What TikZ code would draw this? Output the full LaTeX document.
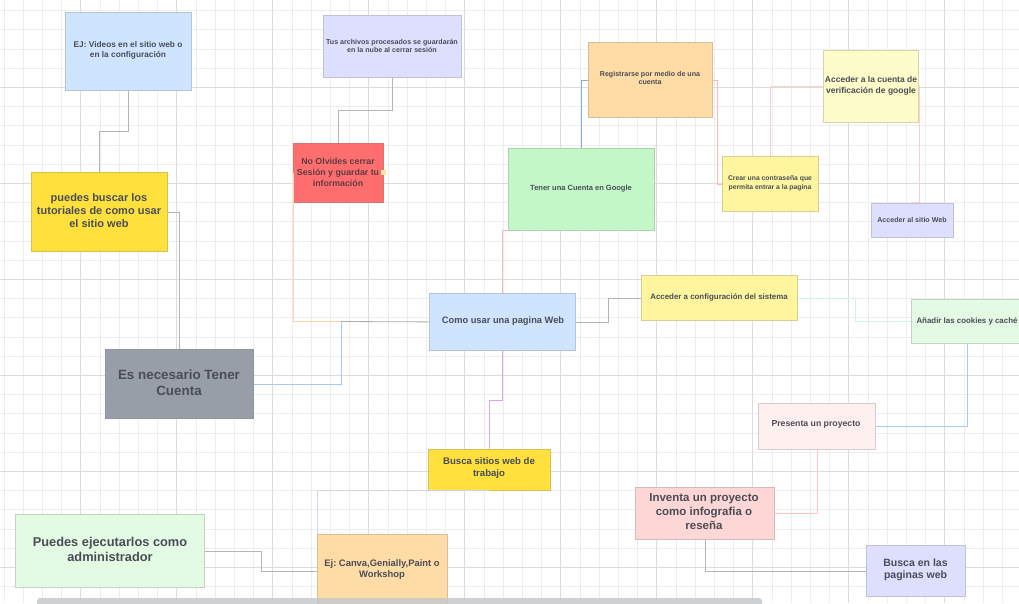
\documentclass[tikz,border=0pt]{standalone}
\usepackage{fontspec}
\setmainfont{Liberation Sans}
\usetikzlibrary{calc}
\frenchspacing
\definecolor{tc}{HTML}{4A4D57}
\definecolor{gminor}{HTML}{EDEDED}
\definecolor{gmajor}{HTML}{DCDCDC}
\definecolor{cblue}{HTML}{CFE4FF}
\definecolor{cyel}{HTML}{FFE03D}
\definecolor{clav}{HTML}{DEDEFF}
\definecolor{cred}{HTML}{FF6E6E}
\definecolor{corg}{HTML}{FFDBA6}
\definecolor{cgrn}{HTML}{C3F7C8}
\definecolor{cpyel}{HTML}{FEFCC9}
\definecolor{clyel}{HTML}{FFF59E}
\definecolor{cmint}{HTML}{E3FAE3}
\definecolor{cgray}{HTML}{979EA8}
\definecolor{cppink}{HTML}{FFF0F0}
\definecolor{cpink}{HTML}{FFD6D6}
\definecolor{lgray}{HTML}{B4B4B4}
\definecolor{lorange}{HTML}{FFD4A8}
\definecolor{lblue}{HTML}{A6CAF2}
\definecolor{lmix}{HTML}{B2AAA4}
\definecolor{lcyan}{HTML}{D2F2F2}
\definecolor{lpink}{HTML}{FFB8B8}
\definecolor{lpurple}{HTML}{DAA4F2}
\definecolor{ldblue}{HTML}{86AEE4}
\definecolor{llav}{HTML}{D2D2F4}
\definecolor{sbar}{HTML}{C6C9CD}
\definecolor{hand}{HTML}{FFE6A0}
\definecolor{ntc}{HTML}{5E3C44}
\tikzset{
  box/.style={rectangle, fill=#1, draw=#1!68!gray, line width=0.8pt, inner sep=0pt, anchor=north west},
  conn/.style={line width=0.8pt, draw=#1},
  txt/.style={text=tc, align=center, inner sep=0pt, anchor=center}
}
\newcommand{\mybox}[6]{\node[box=#2,minimum width=#5pt,minimum height=#6pt] (#1) at (#3,#4) {};}
\newcommand{\fsz}[2]{\fontsize{#1}{#2}\selectfont\bfseries}
\begin{document}
\begin{tikzpicture}[x=1pt,y=-1pt]
\useasboundingbox (0,0) rectangle (1019,603);
\clip (0,0) rectangle (1019,603);
\fill[white] (0,0) rectangle (1019,603);
% grid
\foreach \i in {0,...,53} {
  \draw[gminor, line width=0.8pt] ({3.9+19.2*\i},0) -- ({3.9+19.2*\i},603);
}
\foreach \i in {0,...,31} {
  \draw[gminor, line width=0.8pt] (0,{10.5+19.2*\i}) -- (1019,{10.5+19.2*\i});
}
\foreach \i in {0,...,10} {
  \draw[gmajor, line width=1pt] ({80.7+96*\i},0) -- ({80.7+96*\i},603);
}
\foreach \i in {0,...,6} {
  \draw[gmajor, line width=1pt] (0,{-8.7+96*\i}) -- (1019,{-8.7+96*\i});
}
% boxes
\mybox{vid}{cblue}{65}{12}{126}{78}
\mybox{tut}{cyel}{31}{172}{136}{79}
\mybox{arch}{clav}{323}{15}{138}{62}
\mybox{nov}{cred}{293}{143}{90}{59}
\mybox{reg}{corg}{588}{42}{124}{75}
\mybox{goo}{cgrn}{508}{148}{146}{82}
\mybox{ver}{cpyel}{823}{50}{95}{72}
\mybox{pwd}{clyel}{722}{156}{96}{55}
\mybox{sit}{clav}{871}{203}{82}{34}
\mybox{cfg}{clyel}{641}{275}{156}{45}
\mybox{coo}{cmint}{911}{299}{112}{44}
\mybox{web}{cblue}{429}{293}{146}{57}
\mybox{nec}{cgray}{105}{349}{148}{69}
\mybox{bus}{cyel}{428}{449}{122}{41}
\mybox{adm}{cmint}{15}{514}{189}{73}
\mybox{can}{corg}{317}{534}{130}{73}
\mybox{pre}{cppink}{758}{403}{117}{46}
\mybox{inv}{cpink}{635}{487}{139}{52}
\mybox{pag}{clav}{866}{545}{99}{51}
\coordinate (j1) at (341,321.5);
% connectors
\draw[conn=lgray] (vid.south) -- ++(0,41) -| (tut.north);
\draw[conn=lgray] (tut.east) -| (nec.north);
\draw[conn=lgray] (arch.south) -- ++(0,33) -| (nov.north);
\draw[conn=lorange] (nov.west) |- (j1);
\draw[conn=lblue] (nec.east) -| (j1);
\draw[conn=lmix] (j1) -- (web.west);
\draw[conn=lgray] (web.east) -- ++(33,0) |- (cfg.west);
\draw[conn=lcyan] (cfg.east) -- ++(58,0) |- (coo.west);
\draw[conn=lpink] (web.north) |- (goo.south west);
\draw[conn=lpurple] (web.south) -- ++(0,50) -| (bus.north);
\draw[conn=ldblue] (reg.west) -| (goo.north);
\draw[conn=lpink] (reg.east) -- ++(5,0) |- (pwd.west);
\draw[conn=lpink!70!white] (pwd.north) |- (ver.west);
\draw[conn=lpink!70!white] (ver.east) -- ++(1,0) -- ++(0,116) -| (sit.north);
\draw[conn=lblue] (coo.south) |- (pre.east);
\draw[conn=llav] (bus.south) -| (can.north west);
\draw[conn=lgray] (adm.east) -- ++(57,0) |- (can.west);
\draw[conn=lpink!80!white] (pre.south) |- (inv.east);
\draw[conn=lgray] (inv.south) |- (pag.west);
\fill[hand] (381,170) rectangle (386,175);
% texts
\node[txt, font=\fsz{8.3}{10}] (t1) at (128,50) {EJ: Videos en el sitio web o\\en la configuración};
\node[txt, font=\fsz{11}{13}] (t2) at (99,211) {puedes buscar los\\tutoriales de como usar\\el sitio web};
\node[txt, font=\fsz{7.1}{8.3}] (t3) at (392,46) {Tus archivos procesados se guardarán\\en la nube al cerrar sesión};
\node[txt, font=\fsz{8.8}{11}, text=ntc] (t4) at (338,172) {No Olvides cerrar\\Sesión y guardar tu\\información};
\node[txt, font=\fsz{7.1}{8.3}] (t5) at (650,78) {Registrarse por medio de una\\cuenta};
\node[txt, font=\fsz{7.5}{9}] (t6) at (581,188.5) {Tener una Cuenta en Google};
\node[txt, font=\fsz{8.5}{11}] (t7) at (871,85.5) {Acceder a la cuenta de\\verificación de google};
\node[txt, font=\fsz{6.8}{8.7}] (t8) at (770,183.5) {Crear una contraseña que\\permita entrar a la pagina};
\node[txt, font=\fsz{7.1}{8}] (t9) at (912,219.7) {Acceder al sitio Web};
\node[txt, font=\fsz{7.9}{9}] (t10) at (719,297) {Acceder a configuración del sistema};
\node[txt, font=\fsz{7.9}{9}] (t11) at (967,321) {Añadir las cookies y caché};
\node[txt, font=\fsz{9.3}{11}] (t12) at (503,321) {Como usar una pagina Web};
\node[txt, font=\fsz{13.4}{16}] (t13) at (179,383) {Es necesario Tener\\Cuenta};
\node[txt, font=\fsz{9.6}{11.7}] (t14) at (489,468) {Busca sitios web de\\trabajo};
\node[txt, font=\fsz{12.8}{15}] (t15) at (110,549.5) {Puedes ejecutarlos como\\administrador};
\node[txt, font=\fsz{9.4}{11.6}] (t16) at (382,569.5) {Ej: Canva,Genially,Paint o\\Workshop};
\node[txt, font=\fsz{8.7}{9}] (t17) at (816,424.7) {Presenta un proyecto};
\node[txt, font=\fsz{11.5}{14}] (t18) at (704,511.3) {Inventa un proyecto\\como infografia o\\reseña};
\node[txt, font=\fsz{10.5}{12.4}] (t19) at (915.5,569.5) {Busca en las\\paginas web};
% scrollbar
\fill[sbar, opacity=0.85, rounded corners=3pt] (37,598) rectangle (762,610);
\end{tikzpicture}
\end{document}
